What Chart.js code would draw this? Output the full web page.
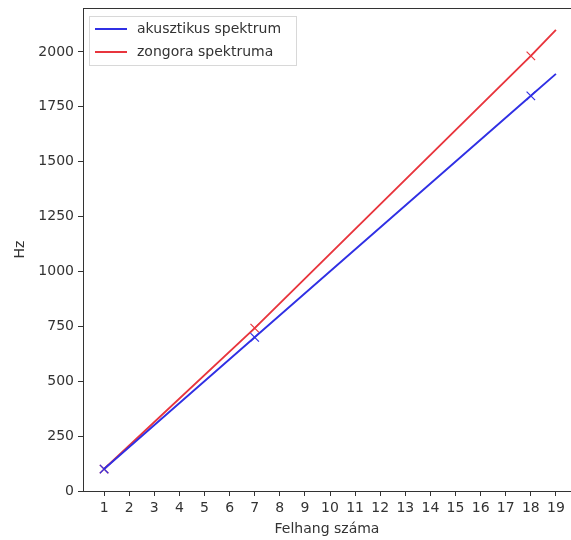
<!DOCTYPE html>
<html lang="hu">
<head>
    <meta charset="UTF-8">
    <title>Felhangok</title>
    <script src="https://cdn.jsdelivr.net/npm/chart.js"></script>
    <style>
        * { margin: 0; padding: 0; box-sizing: border-box; }
        body { background: #fff; }
        #wrap { width: 571px; height: 540px; }
    </style>
</head>
<body>
    <div id="wrap"><canvas id="felhangChart" width="571" height="540"></canvas></div>

    <script>
        // felhang sorszámok és frekvenciák (Hz)
        const felhangok = [1, 7, 18, 19];
        const akusztikus = [100, 700, 1800, 1900];
        const zongora = [100, 742, 1982, 2100];
        const jelolo = [6, 6, 6, 0];   // x jelölő csak a mért pontokon

        const xTicks = [1, 2, 3, 4, 5, 6, 7, 8, 9, 10, 11, 12, 13, 14, 15, 16, 17, 18, 19];
        const yTicks = [0, 250, 500, 750, 1000, 1250, 1500, 1750, 2000];

        const ink = '#333';
        const font = "14px 'DejaVu Sans', sans-serif";
        Chart.defaults.font.family = "'DejaVu Sans', sans-serif";
        Chart.defaults.font.size = 14;
        Chart.defaults.color = ink;

        const pts = arr => felhangok.map((n, i) => ({ x: n, y: arr[i] }));

        // keret a rajzterület körül + jelmagyarázat bal felül (matplotlib stílus)
        const frame = {
            id: 'frame',
            afterDraw(chart) {
                const { ctx, chartArea: a } = chart;
                ctx.save();
                ctx.strokeStyle = ink;
                ctx.lineWidth = 1;
                ctx.strokeRect(a.left + 0.5, a.top + 0.5, a.right - a.left, a.bottom - a.top);

                const bx = a.left + 6, by = a.top + 8;
                ctx.fillStyle = 'rgba(255,255,255,0.85)';
                ctx.fillRect(bx, by, 207, 49);
                ctx.strokeStyle = '#d8d8d8';
                ctx.strokeRect(bx + 0.5, by + 0.5, 207, 49);

                ctx.font = font;
                ctx.textBaseline = 'middle';
                chart.data.datasets.forEach((ds, i) => {
                    const y = by + 13 + i * 23;
                    ctx.strokeStyle = ds.borderColor;
                    ctx.lineWidth = 2;
                    ctx.beginPath();
                    ctx.moveTo(bx + 6, y);
                    ctx.lineTo(bx + 38, y);
                    ctx.stroke();
                    ctx.fillStyle = ink;
                    ctx.fillText(ds.label, bx + 48, y);
                });
                ctx.restore();
            }
        };

        new Chart(document.getElementById('felhangChart'), {
            type: 'line',
            data: {
                datasets: [
                    {
                        label: 'akusztikus spektrum',
                        data: pts(akusztikus),
                        borderColor: '#3030e4',
                        backgroundColor: '#3030e4',
                        borderWidth: 1.9,
                        pointStyle: 'crossRot',
                        pointRadius: jelolo,
                        pointBorderWidth: 1.2,
                        tension: 0
                    },
                    {
                        label: 'zongora spektruma',
                        data: pts(zongora),
                        borderColor: '#e8353d',
                        backgroundColor: '#e8353d',
                        borderWidth: 1.9,
                        pointStyle: 'crossRot',
                        pointRadius: jelolo,
                        pointBorderWidth: 1.2,
                        tension: 0
                    }
                ]
            },
            options: {
                responsive: false,
                animation: false,
                layout: { autoPadding: false, padding: { left: 0, right: 0, top: 8, bottom: 0 } },
                plugins: {
                    tooltip: { enabled: false },
                    legend: { display: false }
                },
                scales: {
                    x: {
                        type: 'linear',
                        min: 0.16,
                        max: 19.6,
                        afterBuildTicks: s => { s.ticks = xTicks.map(v => ({ value: v })); },
                        afterFit: s => { s.height = 49; s.paddingLeft = 0; s.paddingRight = 0; },
                        grid: { drawOnChartArea: false, tickLength: 5, color: ink },
                        border: { color: ink },
                        ticks: { padding: 4, callback: v => String(v) },
                        title: { display: true, text: 'Felhang száma', padding: { top: 2, bottom: 2 } }
                    },
                    y: {
                        min: 0,
                        max: 2200,
                        afterBuildTicks: s => { s.ticks = yTicks.map(v => ({ value: v })); },
                        afterFit: s => { s.width = 83; s.paddingTop = 0; s.paddingBottom = 0; },
                        grid: { drawOnChartArea: false, tickLength: 5, color: ink },
                        border: { color: ink },
                        ticks: { padding: 4, callback: v => String(v) },
                        title: { display: true, text: 'Hz', padding: { top: 12, bottom: 4 } }
                    }
                }
            },
            plugins: [frame]
        });
    </script>
</body>
</html>
